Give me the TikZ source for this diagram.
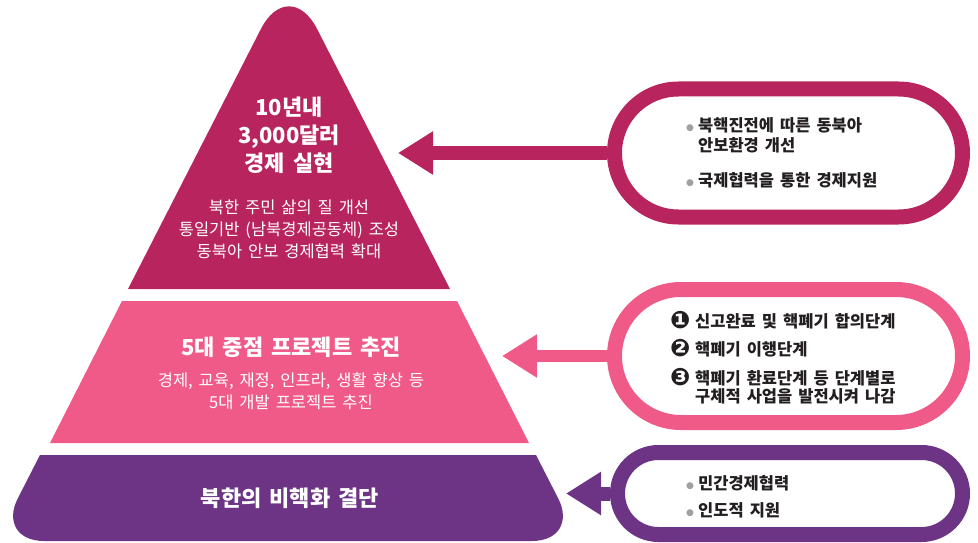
\documentclass[tikz,border=0pt]{standalone}
\usepackage{fontspec}
\setmainfont{Noto Sans CJK KR}[WordSpace=1.6]
\newfontfamily\symfont{DejaVu Sans}
\usetikzlibrary{arrows.meta, shapes.misc}
\definecolor{topred}{RGB}{183,36,94}
\definecolor{midpink}{RGB}{240,90,136}
\definecolor{botpurple}{RGB}{109,52,133}
\definecolor{bulletgray}{RGB}{160,160,160}
\definecolor{textdark}{RGB}{35,31,32}
\newcommand\dotmark{\makebox[12pt][l]{\raisebox{1pt}{\color{bulletgray}\fontsize{9}{9}\selectfont\symfont●}}}
\newcommand\dotgap{\hspace*{12pt}}
\newcommand\nummark[1]{\makebox[25pt][l]{\raisebox{-1pt}{\fontsize{24}{24}\selectfont\symfont #1}}}
\newcommand\numgap{\hspace*{25pt}}
\tikzset{
  pillbox/.style={rounded rectangle, draw=#1, line width=15pt, fill=white, inner sep=0pt},
  pointer/.style={draw=#1, line width=14pt, -{Triangle[length=35pt,width=41pt]}},
  titletext/.style={text=white, font=\fontsize{22}{28}\selectfont\bfseries, align=center},
  bodytext/.style={text=white, font=\fontsize{16.5}{22}\selectfont, align=center},
  listtext/.style={text=textdark, font=\fontsize{16.5}{20}\selectfont\bfseries, align=left, anchor=west, inner sep=0pt},
}
\begin{document}
\begin{tikzpicture}[x=1pt, y=-1pt]
\useasboundingbox (0,0) rectangle (978,543);

% pyramid
\fill[topred] (128,289) [rounded corners=62pt] -- (289,-26) [sharp corners] -- (450,289) -- cycle;
\fill[midpink] (122,301) -- (457,301) -- (529,443) -- (50,443) -- cycle;
\fill[botpurple] (40,455) -- (536,455) [rounded corners=48pt] -- (580,541) -- (-4,541) [sharp corners] -- cycle;

\node[titletext] (toptitle) at (289,135) {10년내\\3,000달러\\경제 실현};
\node[bodytext] (topbody) at (289,229) {북한 주민 삶의 질 개선\\통일기반 (남북경제공동체) 조성\\동북아 안보 경제협력 확대};
\node[titletext] (midtitle) at (291,347) {5대 중점 프로젝트 추진};
\node[bodytext] (midbody) at (291,391) {경제, 교육, 재정, 인프라, 생활 향상 등\\5대 개발 프로젝트 추진};
\node[titletext] (bottitle) at (290,498) {북한의 비핵화 결단};

% boxes on the right
\node[pillbox=topred, minimum width=348pt, minimum height=128pt] (box1) at (788.5,153) {};
\node[pillbox=midpink, minimum width=348pt, minimum height=133pt] (box2) at (788.5,356) {};
\node[pillbox=botpurple, minimum width=345pt, minimum height=82pt] (box3) at (790,493.5) {};

\coordinate (tip1) at (398,153);
\coordinate (tip2) at (502,356);
\coordinate (tip3) at (566,493.5);
\draw[pointer=topred] (box1.west) -- (tip1);
\draw[pointer=midpink, line width=12pt] (box2.west) -- (tip2);
\draw[pointer=botpurple] (box3.west) -- (tip3);

\node[listtext] (item1a) at (686,135) {\dotmark 북핵진전에 따른 동북아\\\dotgap 안보환경 개선};
\node[listtext] (item1b) at (686,180) {\dotmark 국제협력을 통한 경제지원};

\node[listtext] (item2a) at (670,320) {\nummark{❶}신고완료 및 핵폐기 합의단계};
\node[listtext] (item2b) at (670,348) {\nummark{❷}핵폐기 이행단계};
\node[listtext, font=\fontsize{16.5}{18.5}\selectfont\bfseries] (item2c) at (670,386) {\nummark{❸}핵폐기 환료단계 등 단계별로\\\numgap 구체적 사업을 발전시켜 나감};

\node[listtext] (item3a) at (686,483) {\dotmark 민간경제협력};
\node[listtext] (item3b) at (686,510) {\dotmark 인도적 지원};
\end{tikzpicture}
\end{document}
